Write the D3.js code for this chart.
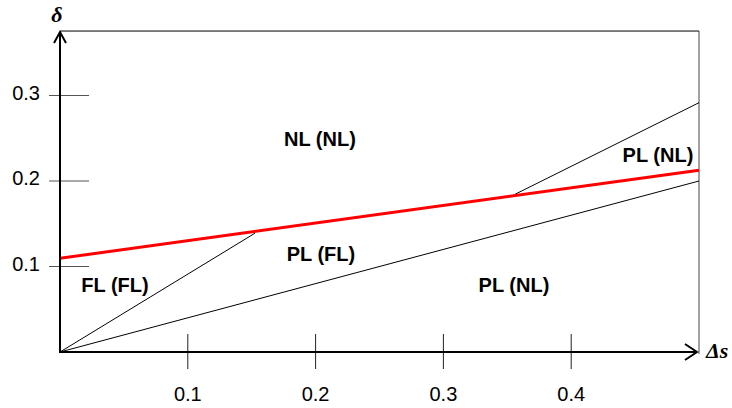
<!DOCTYPE html>
<html>
<head>
<meta charset="utf-8">
<script src="https://cdn.jsdelivr.net/npm/d3@7"></script>
<style>
  html, body { margin: 0; padding: 0; background: #fff; }
  svg { display: block; }
  .tick-label { font-family: "Liberation Sans", Arial, sans-serif; font-size: 20px; fill: #000; }
  .region { font-family: "Liberation Sans", Arial, sans-serif; font-size: 20px; font-weight: bold; fill: #000; }
  .axis-name { font-family: "Liberation Serif", "Times New Roman", serif; font-size: 22px; font-weight: bold; font-style: italic; fill: #000; }
</style>
</head>
<body>
<svg width="732" height="408"></svg>
<script>
var xTicks = [0.1, 0.2, 0.3, 0.4];
var yTicks = [0.1, 0.2, 0.3];

// boundary lines, [Δs, δ]
var redLine = [[0, 0.1096], [0.5, 0.2125]];
var flLine = [[0, 0], [0.1526, 0.139]];
var plLine = [[0, 0], [0.5, 0.2]];
var nlLine = [[0.356, 0.1844], [0.5, 0.2916]];

var regionNames = ["NL (NL)", "FL (FL)", "PL (FL)", "PL (NL)", "PL (NL)"];
var regionX = [0.2034, 0.043, 0.2042, 0.3552, 0.4679];
var regionY = [0.241, 0.0702, 0.1064, 0.0702, 0.2222];

var xMax = 0.5, yTop = 0.3754;

var svg = d3.select("svg");

var x = d3.scaleLinear().domain([0, 0.5]).range([60, 699]);
var y = d3.scaleLinear().domain([0, 0.3]).range([352, 95.5]);

var line = d3.line()
    .x(function(d) { return x(d[0]); })
    .y(function(d) { return y(d[1]); });

// frame top and right
svg.append("line")
    .attr("x1", x(0)).attr("x2", x(xMax))
    .attr("y1", y(yTop)).attr("y2", y(yTop))
    .attr("stroke", "#000").attr("stroke-width", 1);
svg.append("line")
    .attr("x1", x(xMax)).attr("x2", x(xMax))
    .attr("y1", y(yTop)).attr("y2", y(0) + 2)
    .attr("stroke", "#444").attr("stroke-width", 1);

// y ticks
svg.selectAll(".ytick")
  .data(yTicks)
  .enter().append("line")
    .attr("x1", x(0) - 11).attr("x2", x(0) + 29)
    .attr("y1", function(d) { return y(d); })
    .attr("y2", function(d) { return y(d); })
    .attr("stroke", "#555").attr("stroke-width", 1);

svg.selectAll(".ylabel")
  .data(yTicks)
  .enter().append("text")
    .attr("class", "tick-label")
    .attr("x", 40)
    .attr("y", function(d) { return y(d) + 4; })
    .attr("text-anchor", "end")
    .text(function(d) { return d.toFixed(1); });

// x ticks
svg.selectAll(".xtick")
  .data(xTicks)
  .enter().append("line")
    .attr("x1", function(d) { return x(d); })
    .attr("x2", function(d) { return x(d); })
    .attr("y1", y(0) - 18).attr("y2", y(0) + 17)
    .attr("stroke", "#222").attr("stroke-width", 1);

svg.selectAll(".xlabel")
  .data(xTicks)
  .enter().append("text")
    .attr("class", "tick-label")
    .attr("x", function(d) { return x(d); })
    .attr("y", 401)
    .attr("text-anchor", "middle")
    .text(function(d) { return d.toFixed(1); });

// boundary lines
[flLine, plLine, nlLine].forEach(function(seg) {
  svg.append("path")
      .datum(seg)
      .attr("fill", "none")
      .attr("stroke", "#000")
      .attr("stroke-width", 1)
      .attr("d", line);
});

svg.append("path")
    .datum(redLine)
    .attr("fill", "none")
    .attr("stroke", "#ff0000")
    .attr("stroke-width", 3)
    .attr("d", line);

// axes with arrows
var ox = x(0), oy = y(0);
svg.append("line")
    .attr("x1", ox).attr("x2", ox)
    .attr("y1", oy + 1).attr("y2", y(yTop) + 1)
    .attr("stroke", "#000").attr("stroke-width", 2);
svg.append("path")
    .attr("d", "M" + (ox - 6) + "," + (y(yTop) + 12) + "L" + ox + "," + (y(yTop) + 1) + "L" + (ox + 6) + "," + (y(yTop) + 12))
    .attr("fill", "none").attr("stroke", "#000").attr("stroke-width", 2);

svg.append("line")
    .attr("x1", ox - 1).attr("x2", x(xMax) - 2)
    .attr("y1", oy).attr("y2", oy)
    .attr("stroke", "#000").attr("stroke-width", 2);
svg.append("path")
    .attr("d", "M" + (x(xMax) - 14) + "," + (oy - 8) + "L" + (x(xMax) - 2) + "," + oy + "L" + (x(xMax) - 14) + "," + (oy + 8))
    .attr("fill", "none").attr("stroke", "#000").attr("stroke-width", 2);

svg.append("text")
    .attr("class", "axis-name")
    .attr("x", ox - 3)
    .attr("y", 22)
    .attr("text-anchor", "middle")
    .text("δ");

svg.append("text")
    .attr("class", "axis-name")
    .attr("x", 706)
    .attr("y", 358)
    .text("Δs");

// region labels
svg.selectAll(".region")
  .data(regionNames)
  .enter().append("text")
    .attr("class", "region")
    .attr("x", function(d, i) { return x(regionX[i]); })
    .attr("y", function(d, i) { return y(regionY[i]); })
    .attr("text-anchor", "middle")
    .text(function(d) { return d; });
</script>
</body>
</html>
